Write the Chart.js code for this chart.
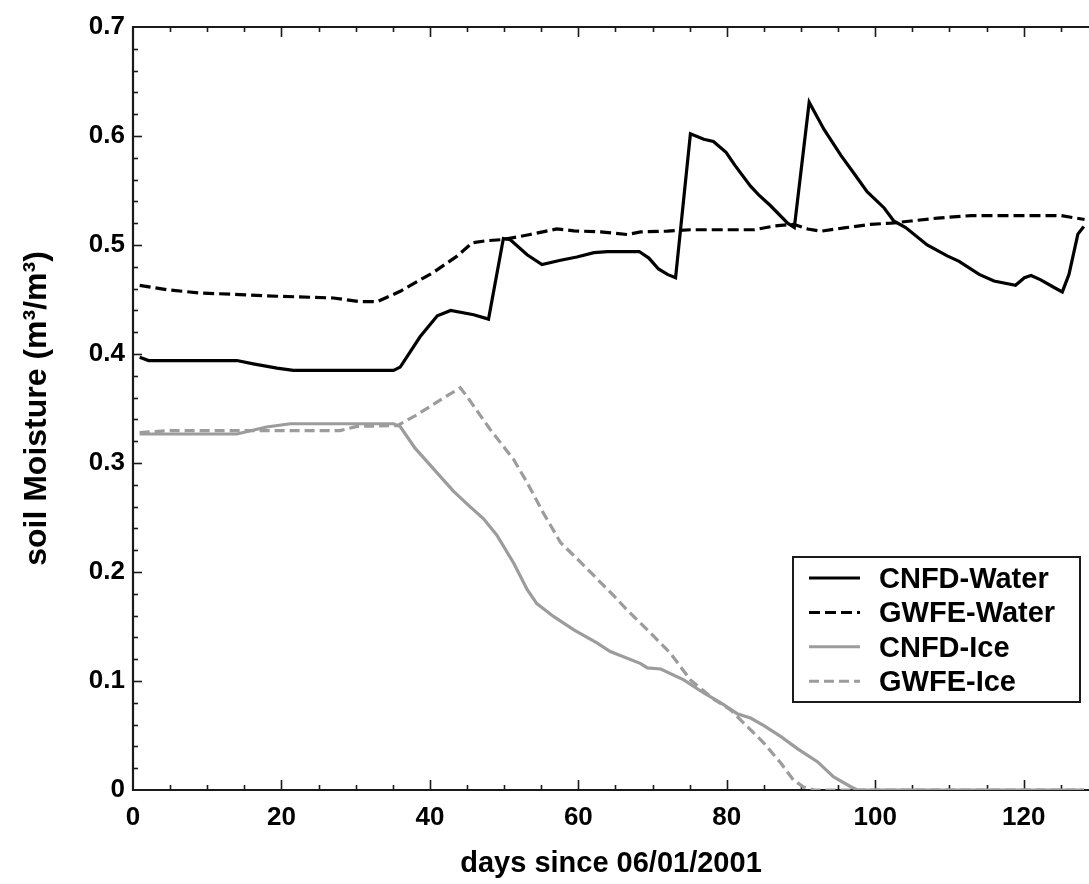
<!DOCTYPE html>
<html>
<head>
<meta charset="utf-8">
<title>Soil moisture: water and ice content</title>
<script src="https://cdn.jsdelivr.net/npm/chart.js@4/dist/chart.umd.min.js"></script>
<style>
  html, body { margin: 0; padding: 0; background: #ffffff; }
  #wrap { width: 1089px; height: 884px; position: relative; }
</style>
</head>
<body>
<div id="wrap"><canvas id="chart" width="1089" height="884"></canvas></div>
<script>
// ---- data: day since 06/01/2001 and volumetric content (m3/m3) ----
const cnfdWaterDays = [0.9, 2.1, 14, 16.2, 19.4, 21.6, 35.1, 36, 38.7, 41, 42.8, 45.9, 47.9, 49.9, 50.8, 53.1, 55.1, 57.6, 59.8, 62.1, 63.9, 68.2, 69.5, 70.8, 72, 73.1, 75.1, 76.9, 78.2, 79.9, 81.1, 83.2, 84.3, 85.9, 88.2, 89.1, 91.1, 93.1, 95.4, 97.1, 98.9, 101.2, 102.5, 104.1, 107, 109.7, 111.3, 114, 116, 118.9, 120.1, 121, 122.3, 124.1, 125.2, 126.1, 127.3, 128.1];
const cnfdWaterValues = [0.397, 0.394, 0.394, 0.391, 0.387, 0.385, 0.385, 0.388, 0.416, 0.435, 0.440, 0.436, 0.432, 0.506, 0.505, 0.491, 0.482, 0.486, 0.489, 0.493, 0.494, 0.494, 0.488, 0.478, 0.473, 0.470, 0.602, 0.597, 0.595, 0.585, 0.573, 0.554, 0.546, 0.536, 0.520, 0.516, 0.631, 0.606, 0.582, 0.566, 0.549, 0.534, 0.522, 0.516, 0.500, 0.490, 0.485, 0.473, 0.467, 0.463, 0.470, 0.472, 0.468, 0.461, 0.457, 0.473, 0.510, 0.517];

const gwfeWaterDays = [0.9, 4.5, 9, 14.4, 19.4, 27, 30.6, 32.9, 36, 40.5, 43.7, 45.7, 47.7, 49.9, 53.5, 57.1, 59.4, 63, 66.6, 68.4, 72, 75.1, 83.7, 86.4, 89, 90.9, 92.7, 95.8, 99.4, 102.1, 104.8, 108.4, 112.9, 125, 128.2];
const gwfeWaterValues = [0.463, 0.459, 0.456, 0.4545, 0.453, 0.4514, 0.448, 0.448, 0.4575, 0.475, 0.490, 0.502, 0.504, 0.505, 0.5096, 0.5147, 0.513, 0.512, 0.5096, 0.512, 0.5127, 0.514, 0.514, 0.5174, 0.519, 0.5147, 0.5127, 0.5157, 0.519, 0.520, 0.522, 0.5247, 0.527, 0.527, 0.5234];

const cnfdIceDays = [0.9, 14, 18, 21.2, 35.1, 36, 38, 41, 43.2, 45.4, 47.2, 49, 51.3, 53.1, 54.4, 56.7, 59.4, 62.5, 64.3, 68.4, 69.3, 71.1, 74.2, 76.9, 79.2, 81.4, 83.2, 85, 87.3, 89.5, 92.2, 94.4, 96.7, 97.6, 128.1];
const cnfdIceValues = [0.3266, 0.3266, 0.333, 0.336, 0.336, 0.3335, 0.3136, 0.2907, 0.274, 0.260, 0.249, 0.234, 0.208, 0.184, 0.171, 0.159, 0.147, 0.135, 0.127, 0.116, 0.112, 0.111, 0.101, 0.089, 0.080, 0.070, 0.066, 0.059, 0.049, 0.038, 0.026, 0.012, 0.003, 0, 0];

const gwfeIceDays = [0.9, 5, 27.9, 30.2, 35.6, 38.3, 41.9, 44.1, 45, 48.1, 51.3, 53.1, 55.3, 57.6, 60.3, 64.8, 66.6, 69.3, 72.4, 75.1, 78.3, 80.5, 82.8, 85, 87.3, 89, 90.4, 91.8, 128.1];
const gwfeIceValues = [0.328, 0.3297, 0.3297, 0.3336, 0.3343, 0.3444, 0.360, 0.369, 0.361, 0.331, 0.303, 0.282, 0.254, 0.227, 0.209, 0.178, 0.165, 0.147, 0.1255, 0.101, 0.083, 0.0735, 0.058, 0.043, 0.0245, 0.009, 0.0025, 0, 0];

const seriesLabels = ['CNFD-Water', 'GWFE-Water', 'CNFD-Ice', 'GWFE-Ice'];
const xTickValues = [0, 20, 40, 60, 80, 100, 120];
const yTickValues = [0, 0.1, 0.2, 0.3, 0.4, 0.5, 0.6, 0.7];

// ---- styling ----
const FONT = '"Liberation Sans", Arial, Helvetica, sans-serif';
const BLACK = '#000000';
const GREY = '#9c9c9c';
const AXIS = '#1a1a1a';

const toPoints = (days, vals) => days.map((d, i) => ({ x: d, y: vals[i] }));

function lineSet(label, days, vals, color, dash) {
  return {
    label,
    data: toPoints(days, vals),
    borderColor: color,
    backgroundColor: color,
    borderWidth: 3.2,
    borderDash: dash,
    pointRadius: 0,
    tension: 0,
    fill: false
  };
}

// inward tick marks and the left / bottom / top frame lines
const axisFrame = {
  id: 'axisFrame',
  beforeDatasetsDraw(chart) {
    const { ctx, chartArea: a, scales: { x, y } } = chart;
    ctx.save();
    ctx.strokeStyle = AXIS;
    ctx.lineCap = 'butt';
    ctx.lineWidth = 1.6;
    for (let v = 5; v <= x.max; v += 5) {
      const px = Math.round(x.getPixelForValue(v)) + 0.5;
      const len = v % 20 === 0 ? 10 : 5;
      ctx.beginPath();
      ctx.moveTo(px, a.bottom); ctx.lineTo(px, a.bottom - len);
      ctx.moveTo(px, a.top); ctx.lineTo(px, a.top + len);
      ctx.stroke();
    }
    for (let k = 1; k < 35; k++) {
      const v = k * 0.02;
      const py = Math.round(y.getPixelForValue(v)) + 0.5;
      const len = k % 5 === 0 ? 9 : 5;
      ctx.beginPath();
      ctx.moveTo(a.left, py); ctx.lineTo(a.left + len, py);
      ctx.stroke();
    }
    ctx.lineWidth = 2.2;
    ctx.beginPath();
    ctx.moveTo(a.right, a.top); ctx.lineTo(a.left, a.top);
    ctx.lineTo(a.left, a.bottom); ctx.lineTo(a.right, a.bottom);
    ctx.stroke();
    ctx.restore();
  }
};

// framed legend in the lower right of the plot
const boxedLegend = {
  id: 'boxedLegend',
  afterDatasetsDraw(chart) {
    const { ctx } = chart;
    const box = { left: 793, top: 557, width: 287, height: 145 };
    const rowGap = 34.4;
    const firstRow = box.top + 21;
    ctx.save();
    ctx.fillStyle = '#ffffff';
    ctx.fillRect(box.left, box.top, box.width, box.height);
    ctx.strokeStyle = AXIS;
    ctx.lineWidth = 2;
    ctx.strokeRect(box.left, box.top, box.width, box.height);
    ctx.font = 'bold 29px ' + FONT;
    ctx.textBaseline = 'alphabetic';
    ctx.textAlign = 'left';
    chart.data.datasets.forEach((ds, i) => {
      const yRow = firstRow + i * rowGap;
      ctx.strokeStyle = ds.borderColor;
      ctx.lineWidth = 3;
      ctx.setLineDash(ds.borderDash || []);
      ctx.beginPath();
      ctx.moveTo(box.left + 16, yRow);
      ctx.lineTo(box.left + 67, yRow);
      ctx.stroke();
      ctx.setLineDash([]);
      ctx.fillStyle = '#000000';
      ctx.fillText(ds.label, box.left + 86, yRow + 10);
    });
    ctx.restore();
  }
};

new Chart(document.getElementById('chart'), {
  type: 'line',
  data: {
    datasets: [
      lineSet(seriesLabels[0], cnfdWaterDays, cnfdWaterValues, BLACK, []),
      lineSet(seriesLabels[1], gwfeWaterDays, gwfeWaterValues, BLACK, [11, 5]),
      lineSet(seriesLabels[2], cnfdIceDays, cnfdIceValues, GREY, []),
      lineSet(seriesLabels[3], gwfeIceDays, gwfeIceValues, GREY, [10, 5])
    ]
  },
  options: {
    responsive: false,
    animation: false,
    devicePixelRatio: 1,
    layout: { padding: { top: 27, right: 0, bottom: 0, left: 0 } },
    plugins: {
      legend: { display: false },
      tooltip: { enabled: false }
    },
    scales: {
      x: {
        type: 'linear',
        min: 0,
        max: 128.8,
        grid: { display: false, drawTicks: false },
        border: { display: false },
        afterBuildTicks: s => { s.ticks = xTickValues.map(v => ({ value: v })); },
        afterFit: s => { s.height = 94; },
        ticks: {
          color: '#000',
          padding: 12,
          maxRotation: 0,
          font: { family: FONT, size: 26, weight: 'bold' },
          callback: v => String(v)
        },
        title: {
          display: true,
          text: 'days since 06/01/2001',
          color: '#000',
          padding: { top: 0, bottom: 3 },
          font: { family: FONT, size: 29, weight: 'bold' }
        }
      },
      y: {
        min: 0,
        max: 0.7,
        grid: { display: false, drawTicks: false },
        border: { display: false },
        afterBuildTicks: s => { s.ticks = yTickValues.map(v => ({ value: v })); },
        afterFit: s => { s.width = 133; },
        ticks: {
          color: '#000',
          padding: 8,
          font: { family: FONT, size: 26, weight: 'bold' },
          callback: v => (v === 0 ? '0' : Number(v).toFixed(1))
        },
        title: {
          display: true,
          text: 'soil Moisture (m³/m³)',
          color: '#000',
          padding: { top: 18, bottom: 0 },
          font: { family: FONT, size: 32, weight: 'bold' }
        }
      }
    }
  },
  plugins: [axisFrame, boxedLegend]
});
</script>
</body>
</html>
